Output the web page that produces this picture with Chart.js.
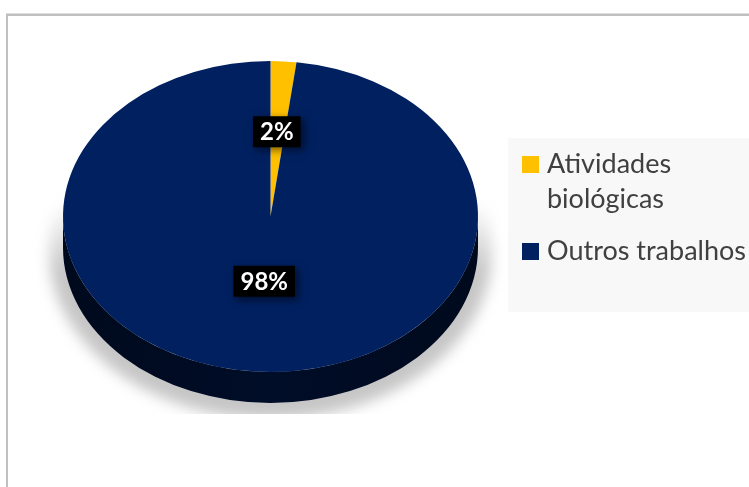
<!DOCTYPE html>
<html>
<head>
<meta charset="utf-8">
<script src="https://cdn.jsdelivr.net/npm/chart.js@4.4.0/dist/chart.umd.min.js"></script>
<style>
  html, body { margin: 0; padding: 0; background: #ffffff; }
  canvas { display: block; }
</style>
</head>
<body>
<canvas id="chart" width="749" height="487"></canvas>
<script>
// Share of time by activity
const categories = ['Atividades biológicas', 'Outros trabalhos'];
const legendLines = [['Atividades', 'biológicas'], ['Outros trabalhos']];
const shares = [2, 98];
const sliceColors = ['#FFC000', '#002060'];

// Tilted-pie geometry (screen space)
const TILT = 0.749;      // vertical squash of the top face
const DEPTH = 31;        // thickness of the disc
const FACE_CY = 216.5;   // centre of the top face
const LABEL_R = 100;     // radius at which the percentage boxes sit
const LABEL_LIFT = 10;
const SHADOW_FLOOR = 414;

const FONT = 'Lato, "Open Sans", "Liberation Sans", sans-serif';

function shade(hex, f) {
  const n = parseInt(hex.slice(1), 16);
  const r = Math.round(((n >> 16) & 255) * f);
  const g = Math.round(((n >> 8) & 255) * f);
  const b = Math.round((n & 255) * f);
  return `rgb(${r},${g},${b})`;
}

// Draws the disc side and shadow, squashes the pie into an ellipse,
// then adds the percentage boxes and the legend.
const tiltedPie = {
  id: 'tiltedPie',
  beforeDraw(chart) {
    const ctx = chart.ctx;
    ctx.save();
    // chart frame
    ctx.fillStyle = '#dedede';
    ctx.fillRect(6, 13, 743, 1);
    ctx.fillStyle = '#c0c0c0';
    ctx.fillRect(6, 14, 743, 2);
    ctx.fillRect(6, 14, 2, 473);
    ctx.restore();
  },
  beforeDatasetsDraw(chart) {
    const ctx = chart.ctx;
    const arcs = chart.getDatasetMeta(0).data;
    const cx = arcs[0].x, cy = arcs[0].y, R = arcs[0].outerRadius;
    const ry = R * TILT;

    // soft grey shadow cast under the disc, fading in from the middle
    // and cut off at the floor line
    ctx.save();
    ctx.beginPath();
    ctx.rect(0, 0, chart.width, SHADOW_FLOOR);
    ctx.clip();
    ctx.filter = 'blur(7px)';
    const fade = ctx.createLinearGradient(0, FACE_CY - 15, 0, FACE_CY + 55);
    fade.addColorStop(0, 'rgba(198,198,198,0)');
    fade.addColorStop(1, 'rgba(198,198,198,1)');
    ctx.fillStyle = fade;
    ctx.beginPath();
    ctx.ellipse(cx, FACE_CY + DEPTH + 4, R + 14, ry + 12, 0, 0, Math.PI * 2);
    ctx.fill();
    ctx.restore();

    // visible (front) part of the side of each slice
    arcs.forEach((arc, i) => {
      const base = chart.data.datasets[0].backgroundColor[i];
      const grad = ctx.createLinearGradient(cx - R, 0, cx + R, 0);
      grad.addColorStop(0, shade(base, 0.3));
      grad.addColorStop(0.5, shade(base, 0.42));
      grad.addColorStop(1, shade(base, 0.3));
      for (let k = -1; k <= 1; k++) {
        const lo = Math.max(arc.startAngle, 2 * Math.PI * k);
        const hi = Math.min(arc.endAngle, Math.PI + 2 * Math.PI * k);
        if (hi <= lo) continue;
        ctx.save();
        ctx.fillStyle = grad;
        ctx.beginPath();
        ctx.ellipse(cx, FACE_CY, R, ry, 0, lo, hi);
        ctx.ellipse(cx, FACE_CY + DEPTH, R, ry, 0, hi, lo, true);
        ctx.closePath();
        ctx.fill();
        ctx.restore();
      }
    });

    // squash the round pie into the tilted top face
    ctx.save();
    ctx.translate(0, FACE_CY);
    ctx.scale(1, TILT);
    ctx.translate(0, -cy);
  },
  afterDatasetsDraw(chart) {
    const ctx = chart.ctx;
    ctx.restore();

    const arcs = chart.getDatasetMeta(0).data;
    const values = chart.data.datasets[0].data;
    const total = values.reduce((a, b) => a + b, 0);

    arcs.forEach((arc, i) => {
      const mid = (arc.startAngle + arc.endAngle) / 2;
      const x = arc.x + LABEL_R * Math.cos(mid);
      const y = FACE_CY + LABEL_R * TILT * Math.sin(mid) - LABEL_LIFT;
      const text = Math.round(values[i] / total * 100) + '%';
      ctx.save();
      ctx.font = `bold 24px ${FONT}`;
      const w = ctx.measureText(text).width + 14;
      const h = 31;
      ctx.shadowColor = 'rgba(0,0,0,0.55)';
      ctx.shadowBlur = 8;
      ctx.shadowOffsetX = 3;
      ctx.shadowOffsetY = 3;
      ctx.fillStyle = '#000000';
      ctx.fillRect(x - w / 2, y - h / 2, w, h);
      ctx.shadowColor = 'transparent';
      ctx.fillStyle = '#ffffff';
      ctx.textAlign = 'center';
      ctx.textBaseline = 'middle';
      ctx.fillText(text, x, y + 1);
      ctx.restore();
    });
  },
  afterDraw(chart) {
    const ctx = chart.ctx;
    const colors = chart.data.datasets[0].backgroundColor;
    ctx.save();
    // legend panel
    ctx.fillStyle = '#f8f8f8';
    ctx.fillRect(508, 138, 241, 174);
    ctx.font = `27px ${FONT}`;
    ctx.textBaseline = 'alphabetic';
    const itemTops = [156, 243];
    legendLines.forEach((lines, i) => {
      const top = itemTops[i];
      ctx.fillStyle = colors[i];
      ctx.fillRect(522, top, 17, 17);
      ctx.fillStyle = '#404040';
      lines.forEach((ln, j) => ctx.fillText(ln, 547, top + 17 + j * 35));
    });
    ctx.restore();
  }
};

new Chart(document.getElementById('chart'), {
  type: 'pie',
  data: {
    labels: categories,
    datasets: [{
      data: shares,
      backgroundColor: sliceColors,
      borderWidth: 0,
      hoverOffset: 0
    }]
  },
  options: {
    responsive: false,
    animation: false,
    events: [],
    layout: { padding: { left: 63, right: 271, top: 36, bottom: 36 } },
    plugins: {
      legend: { display: false },
      tooltip: { enabled: false }
    }
  },
  plugins: [tiltedPie]
});
</script>
</body>
</html>
